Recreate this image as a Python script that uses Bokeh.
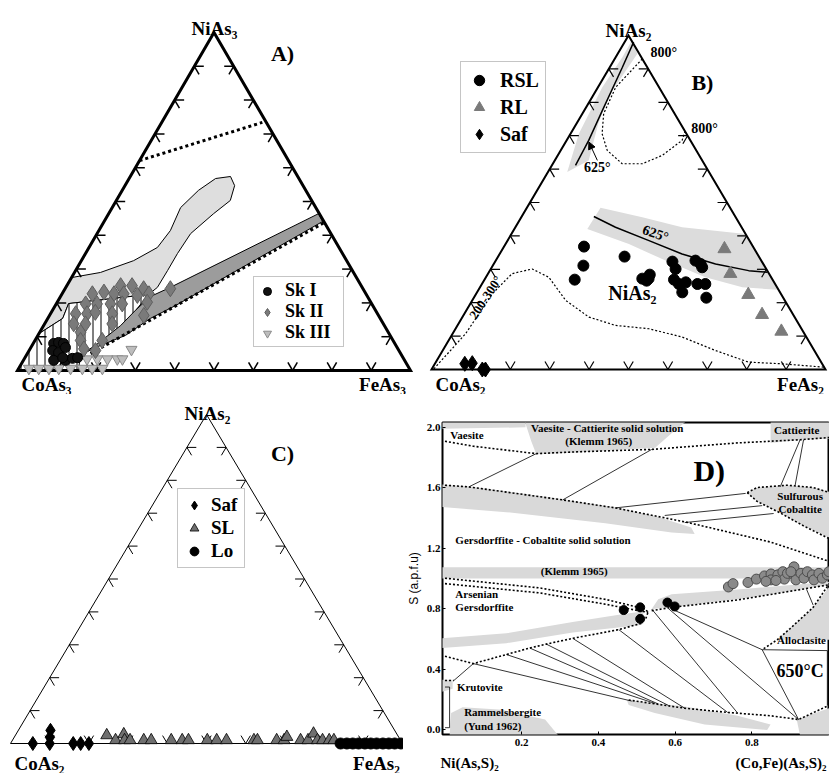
import numpy as np
from bokeh.plotting import figure
from bokeh.models import (Range1d, Label, Legend, LegendItem, Arrow, NormalHead,
                          FixedTicker, PrintfTickFormatter, LinearAxis)
from bokeh.core.properties import value
from bokeh.embed import file_html
from bokeh.resources import INLINE

SERIF = "Liberation Serif"
SANS = "Liberation Sans"
H3 = np.sqrt(3) / 2.0

# ===================== Panel A : NiAs3 - CoAs3 - FeAs3 (mol %, Ni and Fe; Co = rest)
A_SK1_NI = [8.0, 8.3, 8.0, 5.9, 5.3, 6.8, 3.0, 3.0, 3.6, 3.8, 3.8]
A_SK1_FE = [5.2, 6.3, 7.7, 6.0, 7.8, 8.8, 7.7, 10.7, 12.2, 13.4, 9.6]
A_SK2_NI = [22.7, 23.2, 22.7, 25.1, 25.1, 24.2, 22.7, 22.2, 22.7, 24.2,
            19.7, 19.7, 19.7, 19.7, 20.2, 16.8, 16.8, 17.2, 16.8, 16.3,
            13.8, 13.8, 11.3, 13.8, 8.9, 8.9, 6.4, 5.9]
A_SK2_FE = [7.7, 10.4, 13.2, 13.7, 16.6, 20.0, 15.7, 19.4, 22.1, 26.8,
            7.5, 10.4, 13.8, 16.8, 22.9, 6.4, 9.3, 11.2, 15.7, 24.0,
            7.4, 10.4, 10.4, 17.2, 11.6, 17.1, 13.7, 16.9]
A_SK3_NI = [0.6, 0.6, 0.6, 0.6, 0.6, 0.6, 0.6, 0.6, 3.4, 3.4, 3.4, 3.4, 3.4, 6.2]
A_SK3_FE = [2.6, 5.1, 7.7, 10.2, 13.2, 16.2, 18.7, 21.3, 16.0, 18.6, 21.2, 23.7, 25.0, 25.9]
A_LIGHT_NI = [27.5, 29.0, 32.5, 36.4, 41.4, 48.2, 53.3, 56.8, 57.4, 54.7, 50.3, 46.4,
              40.5, 34.6, 29.6, 24.6, 22.5, 19.8, 15.4, 10.9]
A_LIGHT_FE = [0.0, 6.6, 13.3, 17.4, 18.2, 17.4, 19.4, 22.0, 25.5, 27.9, 29.0, 26.7,
              23.8, 23.4, 23.4, 23.3, 22.1, 3.1, 3.8, 0.0]
A_HATCH_NI = [19.8, 22.5, 14.8, 9.8, 4.4, 0.0, 0.0, 10.9, 15.4]
A_HATCH_FE = [3.1, 22.1, 20.6, 18.8, 13.8, 15.5, 0.0, 0.0, 3.8]
A_DARK_NI = [46.4, 24.6, 21.9, 17.8, 13.3, 7.4, 4.7, 7.4, 10.4, 15.4, 19.2, 44.1]
A_DARK_FE = [53.4, 26.6, 22.9, 21.1, 19.6, 16.1, 13.7, 17.4, 22.3, 26.1, 30.6, 55.6]
A_DOT1_NI = [62.1, 73.4]
A_DOT1_FE = [0.0, 25.6]
A_DOT2_NI = [5.0, 43.8]
A_DOT2_FE = [16.1, 56.2]

# ===================== Panel B : NiAs2 - CoAs2 - FeAs2
B_RSL_NI = [36.8, 31.1, 26.9, 33.8, 27.2, 28.4, 26.6, 32.3, 30.1, 26.9,
            25.6, 23.1, 26.1, 32.6, 31.6, 30.6, 25.6, 25.6, 21.5, 27.2]
B_RSL_FE = [20.3, 23.0, 22.9, 32.1, 39.9, 41.2, 41.3, 45.0, 46.9, 48.1,
            50.0, 52.1, 51.5, 50.7, 52.5, 53.4, 54.7, 56.7, 59.0, 41.5]
B_RL_NI = [36.1, 28.7, 22.4, 16.4, 11.4]
B_RL_FE = [56.3, 61.5, 69.2, 75.7, 83.1]
B_SAF_NI = [1.7, 1.9, 0.0, 0.0]
B_SAF_FE = [7.6, 9.4, 12.9, 13.7]
B_BAND1_NI = [98.7, 94.5, 82.6, 73.7, 62.6, 59.1, 70.6, 84.5, 93.5]
B_BAND1_FE = [1.6, 5.0, 4.1, 5.5, 8.6, 4.9, 2.1, 1.1, 1.7]
B_L625A_NI = [98.0, 90.5, 77.5, 68.6, 61.1]
B_L625A_FE = [2.3, 3.2, 4.6, 5.6, 6.0]
B_D800_NI = [93.0, 84.5, 76.6, 70.6, 65.6, 61.6, 61.6, 64.1, 68.6, 71.3]
B_D800_FE = [7.0, 4.5, 5.4, 8.0, 11.8, 17.6, 22.7, 26.5, 29.3, 28.7]
B_BAND2_NI = [48.4, 45.6, 42.6, 40.6, 23.9, 24.6, 27.6, 32.6, 37.6, 42.1]
B_BAND2_FE = [18.7, 30.7, 42.3, 59.4, 75.8, 66.6, 55.7, 43.1, 31.3, 18.5]
B_L625B_NI = [45.8, 42.6, 38.6, 34.6, 31.6, 29.6, 29.1]
B_L625B_FE = [18.3, 25.4, 35.9, 46.3, 56.3, 65.7, 70.7]
B_D200_NI = [0.2, 10.7, 22.7, 28.7, 30.1, 27.6, 20.7, 15.7, 13.2, 12.2, 9.7, 5.7, 2.2, 1.7, 0.7]
B_D200_FE = [0.5, 3.3, 4.1, 6.1, 10.5, 16.0, 23.7, 32.1, 40.1, 49.1, 58.8, 69.2, 79.4, 88.2, 99.2]

# ===================== Panel C : NiAs2 - CoAs2 - FeAs2
C_SAF_NI = [0.0, 0.0, 1.9, 4.0, 0.0, 0.0, 0.0]
C_SAF_FE = [5.7, 10.0, 9.1, 8.2, 16.0, 17.9, 20.0]
C_SL_NI = [2.5, 1.0, 2.8, 1.0, 1.0, 1.0, 1.0, 1.0, 1.0, 1.0, 1.0, 1.0, 1.0,
           1.0, 1.0, 1.0, 1.0, 2.0, 1.0, 1.0, 3.0, 1.0, 1.0, 1.0, 1.0]
C_SL_FE = [23.3, 26.3, 27.5, 28.6, 30.0, 33.5, 35.4, 40.5, 43.3, 44.9, 49.7, 52.1, 54.6,
           61.6, 62.5, 67.4, 69.3, 69.5, 73.5, 75.4, 75.8, 77.8, 79.1, 80.8, 82.0]
C_LO_NI = [0.0, 0.0, 0.0, 0.0, 0.0, 0.0, 0.0, 0.0, 0.0, 0.0, 0.0]
C_LO_FE = [84.2, 85.8, 87.3, 88.8, 90.4, 91.9, 93.4, 95.0, 96.5, 98.0, 99.6]

# ===================== Panel D : (Co,Fe)(As,S)2 fraction vs S (a.p.f.u.)
D_XTICKS = [0.2, 0.4, 0.6, 0.8]
D_YTICKS = [0.0, 0.4, 0.8, 1.2, 1.6, 2.0]
D_END_TICKS = [0.064, 0.876]
D_END_LABELS = ["Ni(As,S)₂", "(Co,Fe)(As,S)₂"]
D_BLACK_X = [0.466, 0.509, 0.509, 0.580, 0.599]
D_BLACK_S = [0.791, 0.809, 0.733, 0.841, 0.815]
D_GRAY_X = [0.739, 0.751, 0.790, 0.812, 0.833, 0.850, 0.850, 0.868, 0.881, 0.885, 0.893, 0.910, 0.910,
            0.915, 0.928, 0.936, 0.945, 0.958, 0.962, 0.975, 0.984, 0.997, 1.001, 0.837, 0.863, 0.902]
D_GRAY_S = [0.944, 0.966, 0.974, 0.996, 1.017, 1.030, 0.991, 1.024, 1.045, 0.996, 1.034, 1.077, 1.024,
            0.991, 1.034, 1.002, 1.045, 1.024, 0.991, 1.034, 1.002, 1.024, 1.045, 0.981, 0.987, 1.045]
# gray phase fields
D_REG_VAES_X = [-0.01, 0.21, 0.21, -0.01]
D_REG_VAES_S = [2.04, 2.04, 2.00, 1.99]
D_REG_VC_X = [0.208, 0.629, 0.591, 0.548, 0.333, 0.238, 0.225]
D_REG_VC_S = [2.04, 2.04, 1.961, 1.865, 1.832, 1.822, 1.908]
D_REG_CAT_X = [0.849, 1.01, 1.01, 0.926, 0.849]
D_REG_CAT_S = [2.04, 2.04, 1.925, 1.918, 1.897]
D_REG_GERS_X = [-0.01, 0.062, 0.307, 0.444, 0.548, 0.642, 0.651, 0.591, 0.418, 0.160, -0.01]
D_REG_GERS_S = [1.622, 1.611, 1.525, 1.471, 1.413, 1.338, 1.295, 1.305, 1.366, 1.439, 1.473]
D_REG_SULF_X = [0.788, 0.814, 0.892, 0.960, 1.01, 1.01, 0.935, 0.874, 0.814]
D_REG_SULF_S = [1.568, 1.602, 1.617, 1.602, 1.568, 1.262, 1.348, 1.434, 1.510]
D_REG_KLEMM_X = [-0.01, 1.01, 1.01, -0.01]
D_REG_KLEMM_S = [1.075, 1.075, 1.0, 1.0]
D_REG_ARS_X = [-0.01, 0.160, 0.333, 0.470, 0.517, 0.517, 0.505, 0.333, 0.160, -0.01]
D_REG_ARS_S = [0.604, 0.637, 0.712, 0.766, 0.781, 0.701, 0.690, 0.643, 0.572, 0.540]
D_REG_COB_X = [0.539, 0.556, 0.591, 0.763, 1.01, 1.01, 0.763, 0.591]
D_REG_COB_S = [0.798, 0.862, 0.895, 0.927, 0.981, 0.959, 0.862, 0.809]
D_REG_ALLO_X = [1.01, 1.01, 0.866, 0.900, 0.960]
D_REG_ALLO_S = [0.970, 0.594, 0.594, 0.669, 0.809]
D_REG_RAMM_X = [0.474, 0.625, 0.763, 0.849, 0.840, 0.677, 0.547, 0.479]
D_REG_RAMM_S = [0.196, 0.153, 0.092, 0.034, -0.002, 0.034, 0.110, 0.163]
D_REG_BR_X = [0.917, 1.01, 1.01, 0.926]
D_REG_BR_S = [0.067, 0.150, -0.04, -0.04]
D_REG_YUND_X = [0.012, 0.016, 0.046, 0.149, 0.261, 0.296]
D_REG_YUND_S = [-0.04, 0.110, 0.148, 0.131, 0.067, -0.04]
D_REG_KRUT_X = [-0.01, 0.02, 0.02, -0.01]
D_REG_KRUT_S = [0.33, 0.33, 0.27, 0.25]
# dotted phase boundaries
D_DOT_TOP_X = [0.0, 0.074, 0.238, 0.333, 0.539, 0.763, 0.926, 1.003]
D_DOT_TOP_S = [1.908, 1.875, 1.826, 1.837, 1.854, 1.897, 1.918, 1.933]
D_DOT_GERS_X = [0.0, 0.062, 0.307, 0.444, 0.634, 0.849, 1.003]
D_DOT_GERS_S = [1.617, 1.606, 1.520, 1.467, 1.370, 1.241, 1.112]
D_DOT_SULF1_X = [0.788, 0.814, 0.892, 0.960, 1.003]
D_DOT_SULF1_S = [1.568, 1.602, 1.617, 1.602, 1.568]
D_DOT_SULF2_X = [0.788, 0.814, 0.874, 0.935, 1.003]
D_DOT_SULF2_S = [1.568, 1.510, 1.434, 1.348, 1.262]
D_DOT_ARSA_X = [0.0, 0.246, 0.418, 0.505, 0.530, 0.522]
D_DOT_ARSA_S = [1.002, 0.938, 0.862, 0.809, 0.781, 0.723]
D_DOT_ARSB_X = [0.0, 0.246, 0.418, 0.505, 0.530]
D_DOT_ARSB_S = [0.966, 0.905, 0.830, 0.787, 0.776]
D_DOT_KRUT_X = [0.0, 0.074, 0.160, 0.221, 0.264, 0.333, 0.453, 0.515]
D_DOT_KRUT_S = [0.486, 0.437, 0.497, 0.540, 0.566, 0.604, 0.662, 0.705]
D_DOT_KRUT2_X = [0.0, 0.023]
D_DOT_KRUT2_S = [0.325, 0.325]
D_DOT_COB_X = [0.539, 0.591, 0.763, 1.003]
D_DOT_COB_S = [0.787, 0.809, 0.858, 0.959]
D_DOT_ALLO_X = [1.003, 0.960, 0.900, 0.866, 0.827]
D_DOT_ALLO_S = [0.970, 0.809, 0.669, 0.594, 0.529]
D_DOT_RAMM_X = [0.479, 0.625, 0.737, 0.849, 0.922, 1.003]
D_DOT_RAMM_S = [0.196, 0.142, 0.114, 0.092, 0.067, 0.163]
# solid tie lines
D_TIE_X = [[0.062, 0.238], [0.307, 0.539], [0.444, 0.784], [0.573, 0.827], [0.625, 0.857],
           [0.926, 0.874], [0.935, 0.913], [0.074, 0.487], [0.160, 0.547], [0.221, 0.556],
           [0.264, 0.582], [0.333, 0.625], [0.453, 0.737], [0.539, 0.763], [0.582, 0.922],
           [0.591, 0.827], [0.827, 0.922], [0.827, 0.997], [0.997, 0.997], [0.023, 0.074],
           [0.943, 0.960], [0.0, 0.012, 0.012, 0.0]]
D_TIE_S = [[1.606, 1.826], [1.520, 1.854], [1.467, 1.563], [1.417, 1.482], [1.370, 1.430],
           [1.918, 1.606], [1.918, 1.617], [0.437, 0.189], [0.497, 0.174], [0.540, 0.170],
           [0.566, 0.161], [0.604, 0.142], [0.662, 0.114], [0.798, 0.110], [0.802, 0.067],
           [0.798, 0.529], [0.529, 0.067], [0.529, 0.523], [0.523, 0.160], [0.325, 0.437],
           [0.927, 0.824], [0.282, 0.282, 0.013, 0.013]]


def tern(ni, fe):
    ni = np.asarray(ni, dtype=float) / 100.0
    fe = np.asarray(fe, dtype=float) / 100.0
    return fe + ni / 2.0, ni * H3


def place(p, left, top):
    p.styles = {"position": "absolute", "left": f"{left}px", "top": f"{top}px"}


def tern_panel(W, H, fx0, fy0, Lx, Rx, baseY, topY):
    sx = float(Rx - Lx)
    sy = (baseY - topY) / H3
    p = figure(width=W, height=H,
               x_range=Range1d((fx0 - Lx) / sx, (fx0 + W - Lx) / sx),
               y_range=Range1d((baseY - (fy0 + H)) / sy, (baseY - fy0) / sy),
               x_axis_location=None, y_axis_location=None,
               toolbar_location=None, output_backend="svg", min_border=0,
               outline_line_color=None, background_fill_color="white",
               border_fill_color="white")
    p.grid.visible = False
    place(p, fx0, fy0)

    def pg(px, py):
        return (px - Lx) / sx, (baseY - py) / sy
    return p, pg


def frame_and_ticks(p, lw, tlw, L=0.024):
    vx, vy = tern([0, 0, 100], [0, 100, 0])
    xs, ys = [], []
    for k in range(1, 10):
        t = k / 10.0
        h = t * H3
        xs += [[t, t + L * 0.5], [t, t - L * 0.5]]
        ys += [[0, L * H3], [0, L * H3]]
        lx = t / 2.0
        xs += [[lx, lx + L], [lx, lx + L * 0.5]]
        ys += [[h, h], [h, h - L * H3]]
        rx = 1 - t / 2.0
        xs += [[rx, rx - L], [rx, rx - L * 0.5]]
        ys += [[h, h], [h, h - L * H3]]
    p.multi_line(xs, ys, line_color="black", line_width=tlw)
    p.patch(list(vx), list(vy), fill_color=None, line_color="black",
            line_width=lw, line_join="miter")


def txt(p, x, y, s, size, align="center", baseline="middle", style="bold",
        font=SERIF, angle=0.0):
    p.add_layout(Label(x=float(x), y=float(y), text=s, text_font=font,
                       text_font_size=f"{size}px", text_font_style=style,
                       text_align=align, text_baseline=baseline,
                       angle=angle, text_color="black"))


def add_legend(p, items, loc, size, lh, glyph, spacing, padding, lwid, standoff):
    lg = Legend(items=[LegendItem(label=value(l), renderers=[r]) for l, r in items],
                location=loc, label_text_font=SERIF, label_text_font_style="bold",
                label_text_font_size=f"{size}px", label_text_color="black",
                label_height=lh, glyph_height=glyph,
                glyph_width=glyph, spacing=spacing, padding=padding, margin=0,
                label_width=lwid, label_standoff=standoff,
                border_line_color="#8c8c8c", border_line_width=1,
                background_fill_color="white", background_fill_alpha=1.0)
    p.add_layout(lg)


# ------------------------------------------------------------------ Panel A
pA, pgA = tern_panel(415, 394, 0, 0, 17, 410, 370, 32)
x, y = tern(A_LIGHT_NI, A_LIGHT_FE)
pA.patch(list(x), list(y), fill_color="#dedede", line_color="black", line_width=1)
x, y = tern(A_HATCH_NI, A_HATCH_FE)
pA.patch(list(x), list(y), fill_color="white", line_color="black", line_width=1,
         hatch_pattern="vertical_line", hatch_color="black", hatch_scale=8, hatch_weight=1)
x, y = tern(A_DARK_NI, A_DARK_FE)
pA.patch(list(x), list(y), fill_color="#9c9c9c", line_color="black", line_width=1)
for ni, fe in [(A_DOT1_NI, A_DOT1_FE), (A_DOT2_NI, A_DOT2_FE)]:
    x, y = tern(ni, fe)
    pA.line(x, y, line_color="black", line_width=3, line_dash="3 3")
frame_and_ticks(pA, 3, 1.5)
x, y = tern(A_SK3_NI, A_SK3_FE)
rA3 = pA.scatter(x, y, marker="inverted_triangle", size=11, fill_color="#bdbdbd",
                 line_color="#8a8a8a")
x, y = tern(A_SK2_NI, A_SK2_FE)
rA2 = pA.scatter(x, y, marker="diamond", size=16, fill_color="#7a7a7a", line_color="#5e5e5e")
x, y = tern(A_SK1_NI, A_SK1_FE)
rA1 = pA.scatter(x, y, marker="circle", size=10, fill_color="#111111", line_color="black")
add_legend(pA, [("Sk I", rA1), ("Sk II", rA2), ("Sk III", rA3)], (253, 47),
           18, 20, 20, 0, 3, 55, 8)
for s, px, py in [("NiAs₃", 214, 28), ("CoAs₃", 46, 384), ("FeAs₃", 382, 384)]:
    tx, ty = pgA(px, py)
    txt(pA, tx, ty, s, 19, baseline="alphabetic")
tx, ty = pgA(282, 53)
txt(pA, tx, ty, "A)", 22)

# ------------------------------------------------------------------ Panel B
pB, pgB = tern_panel(414, 394, 415, 0, 431, 825, 369, 35)
for ni, fe in [(B_BAND1_NI, B_BAND1_FE), (B_BAND2_NI, B_BAND2_FE)]:
    x, y = tern(ni, fe)
    pB.patch(list(x), list(y), fill_color="#dcdcdc", line_color=None)
for ni, fe in [(B_L625A_NI, B_L625A_FE), (B_L625B_NI, B_L625B_FE)]:
    x, y = tern(ni, fe)
    pB.line(x, y, line_color="black", line_width=1.5)
for ni, fe in [(B_D800_NI, B_D800_FE), (B_D200_NI, B_D200_FE)]:
    x, y = tern(ni, fe)
    pB.line(x, y, line_color="black", line_width=1.2, line_dash="2 2")
frame_and_ticks(pB, 2, 1.2)
x, y = tern(B_SAF_NI, B_SAF_FE)
rBs = pB.scatter(x, y, marker="diamond", size=15, fill_color="black", line_color="black")
x, y = tern(B_RL_NI, B_RL_FE)
rBr = pB.scatter(x, y, marker="triangle", size=13, fill_color="#7a7a7a", line_color="#7a7a7a")
x, y = tern(B_RSL_NI, B_RSL_FE)
rBc = pB.scatter(x, y, marker="circle", size=11, fill_color="black", line_color="black")
add_legend(pB, [("RSL", rBc), ("RL", rBr), ("Saf", rBs)], (45, 241),
           20, 26, 26, 1, 5, 40, 8)
ax0, ay0 = tern([62.6], [10.8])
ax1, ay1 = tern([68.1], [5.9])
pB.add_layout(Arrow(end=NormalHead(size=7, fill_color="black", line_color="black"),
                    x_start=float(ax0[0]), y_start=float(ay0[0]),
                    x_end=float(ax1[0]), y_end=float(ay1[0]),
                    line_width=1, line_color="black"))
for s, ni, fe, sz, ang in [("625°", 60.6, 11.8, 14, 0.0), ("625°", 40.7, 36.5, 14, -0.33),
                           ("800°", 94.9, 11.5, 14, 0.0), ("800°", 72.2, 33.2, 14, 0.0),
                           ("200-300°", 21.6, 2.9, 13, 0.99), ("NiAs₂", 22.8, 39.6, 20, 0.0),
                           ("B)", 85.9, 25.8, 22, 0.0)]:
    tx, ty = tern([ni], [fe])
    txt(pB, tx[0], ty[0], s, sz, angle=ang)
for s, px, py in [("NiAs₂", 628, 30), ("CoAs₂", 460, 384), ("FeAs₂", 800, 384)]:
    tx, ty = pgB(px, py)
    txt(pB, tx, ty, s, 19, baseline="alphabetic")

# ------------------------------------------------------------------ Panel C
pC, pgC = tern_panel(403, 379, 0, 394, 10, 402, 743, 414)
frame_and_ticks(pC, 1, 1)
x, y = tern(C_SAF_NI, C_SAF_FE)
rCs = pC.scatter(x, y, marker="diamond", size=14, fill_color="black", line_color="black")
x, y = tern(C_SL_NI, C_SL_FE)
rCt = pC.scatter(x, y, marker="triangle", size=12, fill_color="#6f6f6f", line_color="black",
                 line_width=0.8)
x, y = tern(C_LO_NI, C_LO_FE)
rCo = pC.scatter(x, y, marker="circle", size=11, fill_color="black", line_color="black")
add_legend(pC, [("Saf", rCs), ("SL", rCt), ("Lo", rCo)], (177, 205),
           19, 22, 22, 1, 5, 28, 6)
tx, ty = pgC(207, 413)
txt(pC, tx, ty, "NiAs₂", 19, baseline="alphabetic")
for s, px in [("CoAs₂", 39), ("FeAs₂", 376)]:
    tx, ty = pgC(px, 763)
    txt(pC, tx, ty, s, 19, baseline="alphabetic")
tx, ty = pgC(282, 453)
txt(pC, tx, ty, "C)", 22)

# ------------------------------------------------------------------ Panel D
pD = figure(width=426, height=373,
            x_range=Range1d(-0.0065, 1.0026), y_range=Range1d(-0.032, 2.032),
            toolbar_location=None, output_backend="svg", min_border_left=35,
            min_border_right=0, min_border_top=22, min_border_bottom=31,
            outline_line_color="black", outline_line_width=2,
            background_fill_color="white", border_fill_color="white")
place(pD, 403, 400)
pD.grid.visible = False
pD.xaxis.ticker = FixedTicker(ticks=D_XTICKS)
pD.yaxis.ticker = FixedTicker(ticks=D_YTICKS)
for ax in (pD.xaxis, pD.yaxis):
    ax.formatter = PrintfTickFormatter(format="%.1f")
    ax.axis_line_color = None
    ax.major_tick_in = 3
    ax.major_tick_out = 0
    ax.minor_tick_line_color = None
    ax.major_label_text_font = SERIF
    ax.major_label_text_font_style = "bold"
    ax.major_label_text_font_size = "11px"
    ax.major_label_text_color = "black"
pD.xaxis.major_label_standoff = 4
pD.yaxis.major_label_standoff = 2
pD.yaxis.axis_label = "S (a.p.f.u)"
pD.yaxis.axis_label_text_font = SANS
pD.yaxis.axis_label_text_font_style = "normal"
pD.yaxis.axis_label_text_font_size = "12px"
pD.yaxis.axis_label_text_color = "black"
pD.yaxis.axis_label_standoff = 3
end_axis = LinearAxis(ticker=FixedTicker(ticks=D_END_TICKS),
                      major_label_overrides=dict(zip(D_END_TICKS, D_END_LABELS)),
                      axis_line_color=None, major_tick_line_color=None,
                      minor_tick_line_color=None, major_label_standoff=0,
                      major_label_text_font=SERIF, major_label_text_font_style="bold",
                      major_label_text_font_size="15px", major_label_text_color="black")
pD.add_layout(end_axis, "below")

for rx, rs in [(D_REG_VAES_X, D_REG_VAES_S), (D_REG_VC_X, D_REG_VC_S), (D_REG_CAT_X, D_REG_CAT_S),
               (D_REG_GERS_X, D_REG_GERS_S), (D_REG_SULF_X, D_REG_SULF_S),
               (D_REG_KLEMM_X, D_REG_KLEMM_S), (D_REG_ARS_X, D_REG_ARS_S),
               (D_REG_COB_X, D_REG_COB_S), (D_REG_ALLO_X, D_REG_ALLO_S),
               (D_REG_RAMM_X, D_REG_RAMM_S), (D_REG_BR_X, D_REG_BR_S),
               (D_REG_YUND_X, D_REG_YUND_S), (D_REG_KRUT_X, D_REG_KRUT_S)]:
    pD.patch(rx, rs, fill_color="#d9d9d9", line_color=None)
pD.multi_line(D_TIE_X, D_TIE_S, line_color="black", line_width=0.8)
for dx, ds in [(D_DOT_TOP_X, D_DOT_TOP_S), (D_DOT_GERS_X, D_DOT_GERS_S),
               (D_DOT_SULF1_X, D_DOT_SULF1_S), (D_DOT_SULF2_X, D_DOT_SULF2_S),
               (D_DOT_ARSA_X, D_DOT_ARSA_S), (D_DOT_ARSB_X, D_DOT_ARSB_S),
               (D_DOT_KRUT_X, D_DOT_KRUT_S), (D_DOT_KRUT2_X, D_DOT_KRUT2_S),
               (D_DOT_COB_X, D_DOT_COB_S), (D_DOT_ALLO_X, D_DOT_ALLO_S),
               (D_DOT_RAMM_X, D_DOT_RAMM_S)]:
    pD.line(dx, ds, line_color="black", line_width=1.6, line_dash="2 2")
pD.scatter(D_GRAY_X, D_GRAY_S, marker="circle", size=10, fill_color="#8a8a8a",
           line_color="#4d4d4d")
pD.scatter(D_BLACK_X, D_BLACK_S, marker="circle", size=9, fill_color="black",
           line_color="black")
for s, xx, yy, al, sz in [("Vaesite", 0.014, 1.951, "left", 11),
                          ("Vaesite - Cattierite solid solution", 0.423, 1.994, "center", 11),
                          ("(Klemm 1965)", 0.401, 1.908, "center", 11),
                          ("Cattierite", 0.917, 1.983, "center", 11),
                          ("D)", 0.689, 1.714, "center", 30),
                          ("Sulfurous", 0.926, 1.548, "center", 11),
                          ("Cobaltite", 0.926, 1.460, "center", 11),
                          ("Gersdorffite - Cobaltite solid solution", 0.027, 1.252, "left", 11),
                          ("(Klemm 1965)", 0.337, 1.047, "center", 11),
                          ("Arsenian", 0.027, 0.895, "left", 11),
                          ("Gersdorffite", 0.027, 0.809, "left", 11),
                          ("Krutovite", 0.031, 0.282, "left", 11),
                          ("Rammelsbergite", 0.050, 0.114, "left", 11),
                          ("(Yund 1962)", 0.050, 0.024, "left", 11),
                          ("Alloclasite", 0.866, 0.594, "left", 11),
                          ("650°C", 0.926, 0.389, "center", 18)]:
    txt(pD, xx, yy, s, sz, align=al)

open("out.html", "w").write(file_html([pA, pB, pC, pD], INLINE))
